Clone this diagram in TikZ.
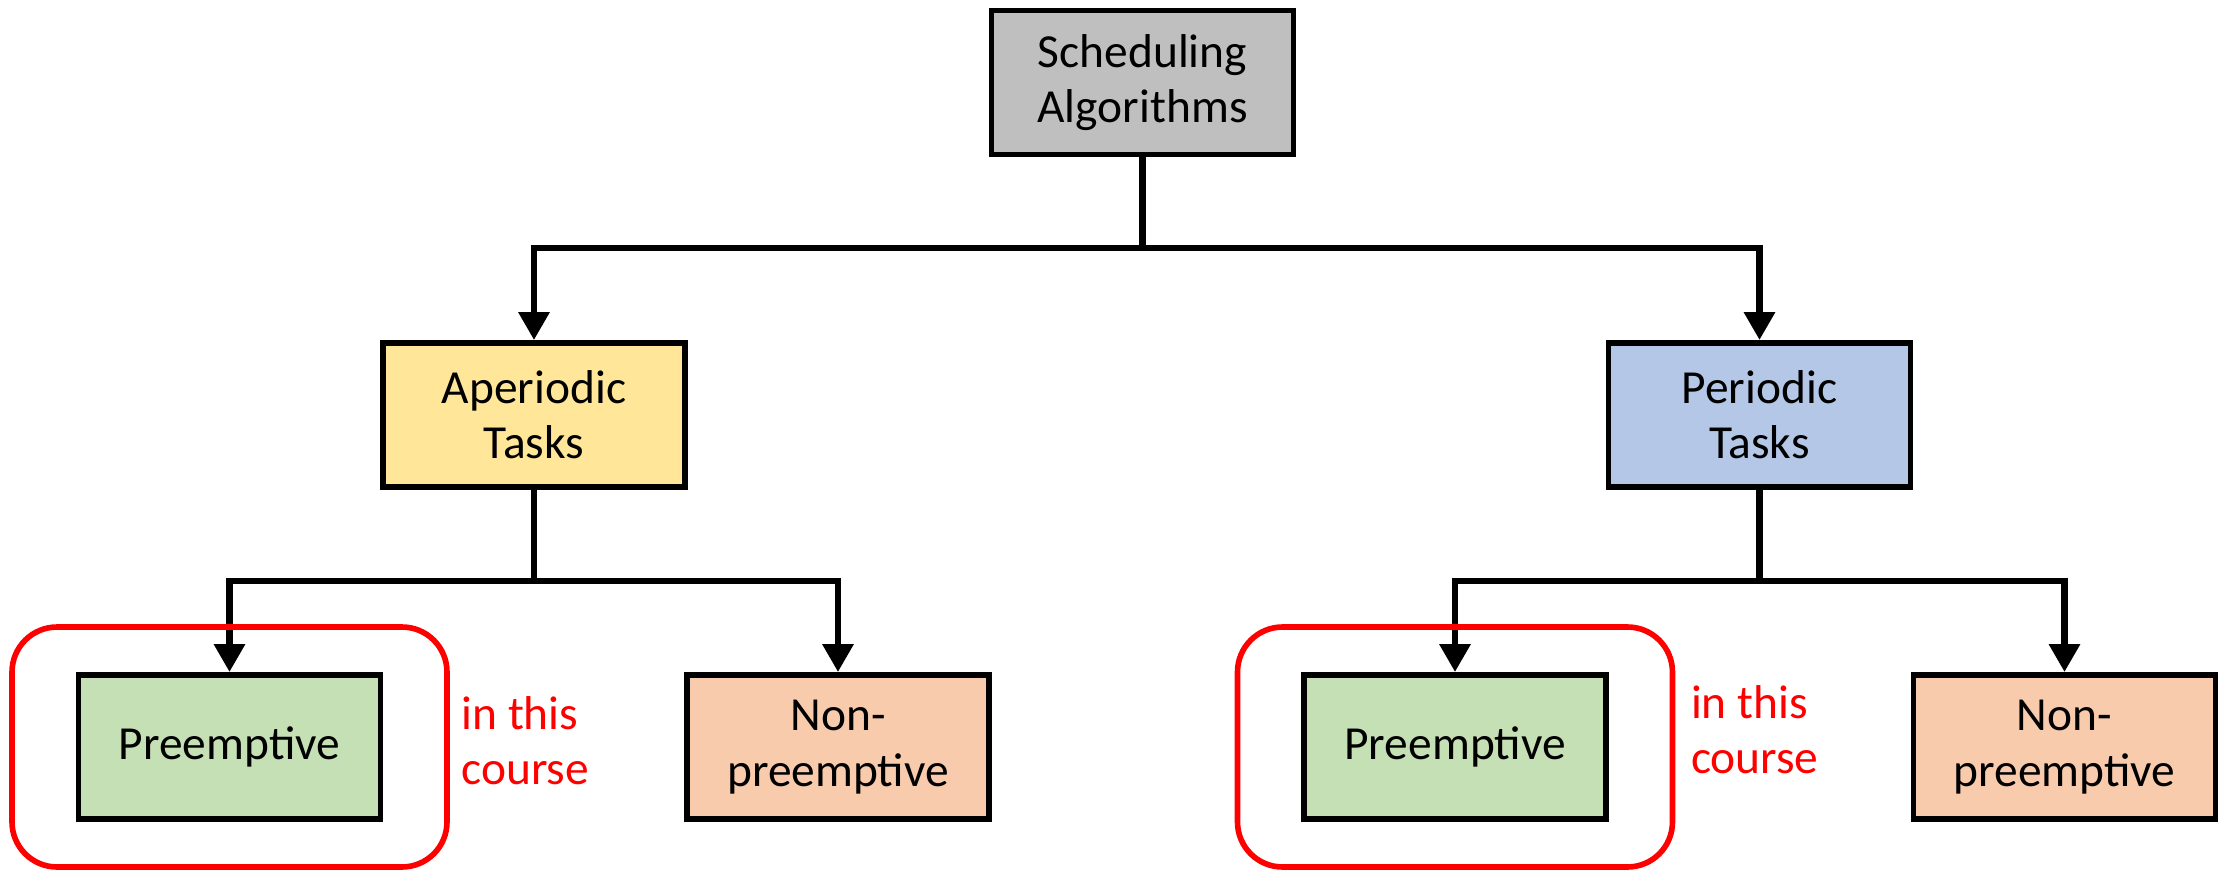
\documentclass[tikz,border=0pt]{standalone}
\usepackage{fontspec}
\setmainfont{Carlito}
\usetikzlibrary{arrows.meta,fit}
\definecolor{schedgray}{HTML}{BFBFBF}
\definecolor{apercol}{HTML}{FFE699}
\definecolor{pericol}{HTML}{B4C7E7}
\definecolor{precol}{HTML}{C5E0B4}
\definecolor{noncol}{HTML}{F8CBAD}
\begin{document}
\begin{tikzpicture}[
  box/.style={draw,line width=1.7pt,minimum width=3.02cm,minimum height=1.44cm,align=center,font=\fontsize{13.5pt}{15.7pt}\selectfont},
  link/.style={line width=1.85pt},
  arr/.style={link,-{Triangle[width=0.3cm,length=0.28cm]}},
  course/.style={draw=red,line width=1.6pt,rounded corners=0.45cm,inner xsep=0.635cm,inner ysep=0.45cm},
  note/.style={text=red,align=left,anchor=west,inner sep=0pt,font=\fontsize{13.5pt}{15.7pt}\selectfont}]
\useasboundingbox (0,0) rectangle (22.24,-8.71);
\node[box,fill=schedgray] (sched) at (11.425,-0.825) {Scheduling\\Algorithms};
\node[box,fill=apercol] (aper) at (5.34,-4.15) {Aperiodic\\Tasks};
\node[box,fill=pericol] (peri) at (17.595,-4.15) {Periodic\\Tasks};
\node[box,fill=precol] (preL) at (2.295,-7.47) {Preemptive};
\node[box,fill=noncol] (nonL) at (8.38,-7.47) {Non-\\preemptive};
\node[box,fill=precol] (preR) at (14.55,-7.47) {Preemptive};
\node[box,fill=noncol] (nonR) at (20.645,-7.47) {Non-\\preemptive};
\coordinate (sbus) at (11.425,-2.48);
\coordinate (abus) at (5.34,-5.81);
\coordinate (pbus) at (17.595,-5.81);
\draw[link] (sched) -- (sbus);
\draw[arr] (sbus) -| (aper.north);
\draw[arr] (sbus) -| (peri.north);
\draw[link] (aper) -- (abus);
\draw[arr] (abus) -| (preL.north);
\draw[arr] (abus) -| (nonL.north);
\draw[link] (peri) -- (pbus);
\draw[arr] (pbus) -| (preR.north);
\draw[arr] (pbus) -| (nonR.north);
\node[course,fit=(preL)] (inL) {};
\node[course,fit=(preR)] (inR) {};
\node[note] (noteL) at ([xshift=0.11cm,yshift=0.06cm]inL.east) {in this\\course};
\node[note] (noteR) at ([xshift=0.15cm,yshift=0.17cm]inR.east) {in this\\course};
\end{tikzpicture}
\end{document}
